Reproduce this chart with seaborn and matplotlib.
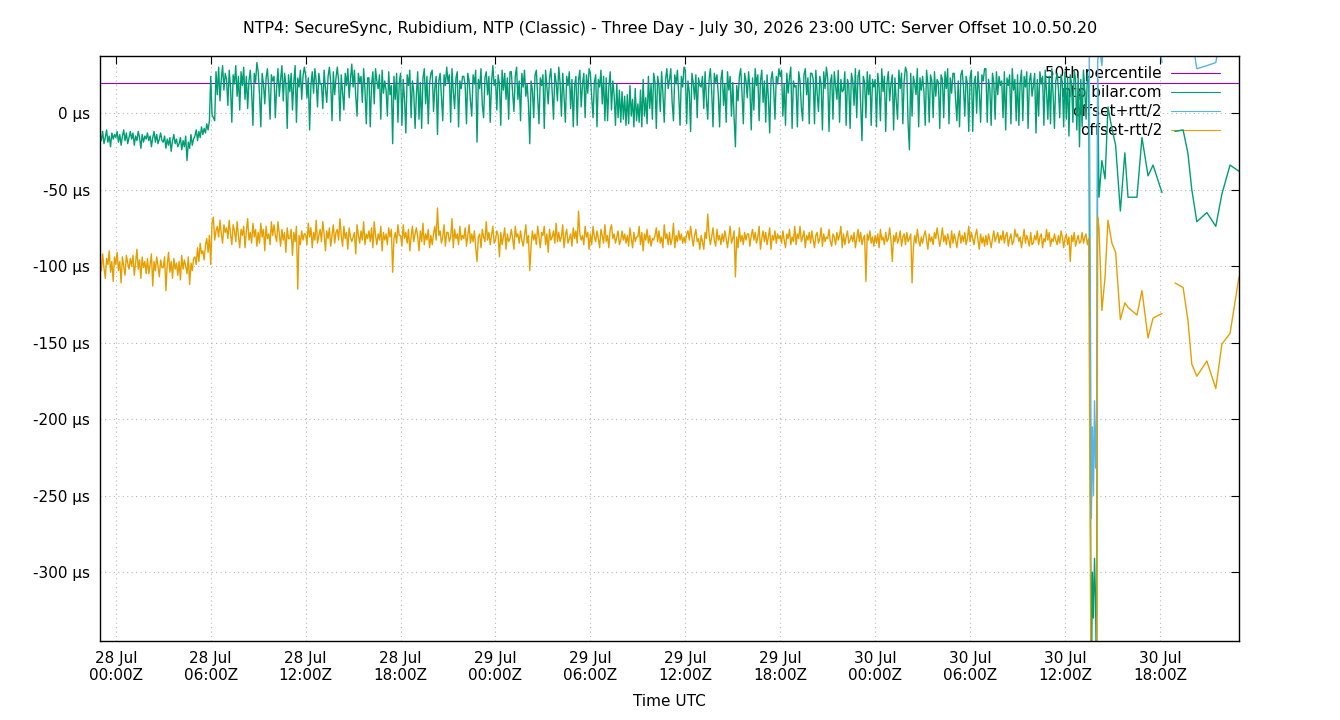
import matplotlib
matplotlib.use("Agg")
import matplotlib.pyplot as plt
import matplotlib.dates as mdates
from matplotlib.lines import Line2D
from matplotlib.ticker import FuncFormatter, MultipleLocator
import seaborn as sns
import pandas as pd

sns.set_theme(style="white")
plt.rcParams['font.family'] = ['DejaVu Sans']
for k in ["text.color", "axes.labelcolor", "xtick.color", "ytick.color"]:
    plt.rcParams[k] = "black"

TITLE = "NTP4: SecureSync, Rubidium, NTP (Classic) - Three Day - July 30, 2026 23:00 UTC: Server Offset 10.0.50.20"
LABELS = ["50th percentile", "ntp.bilar.com", "offset+rtt/2", "offset-rtt/2"]
COLORS = ["#9400d3", "#009e73", "#56b4e9", "#e69f00"]

START = "2026-07-27 23:00"
END = "2026-07-30 23:00"
STEP = "5min"
P50 = 19.5

# offset (us), one row per hour, 5 minute samples from 27 Jul 23:00 to 30 Jul 13:30
green_dense = [
    -14, -18, -12, -20, -16, -11, -19, -15, -22, -13, -17, -14,
    -16, -12, -19, -14, -21, -15, -11, -18, -13, -20, -16, -12,
    -17, -13, -21, -15, -18, -12, -16, -23, -14, -19, -15, -17,
    -13, -18, -15, -22, -16, -12, -19, -14, -20, -17, -13, -18,
    -19, -15, -23, -17, -21, -16, -25, -18, -14, -20, -17, -22,
    -20, -16, -24, -18, -22, -15, -31, -19, -23, -14, -21, -17,
    -15, -11, -18, -12, -16, -9, -14, -10, -13, -7, -11, -5,
    24, -1, -3, -5, 27, 12, 30, 8, 22, 31, 15, 26,
    22, 5, 28, 17, -6, 25, 19, 31, 11, 24, 2, 27,
    18, 30, 9, 24, 3, 21, 28, 14, -8, 26, 20, 33,
    27, 12, -9, 26, 19, 6, 23, 29, 16, -4, 25, 21,
    24, -3, 17, 29, 11, 22, 31, 8, 26, 19, -10, 25,
    14, 26, 2, 20, 31, -6, 23, 17, 28, 9, 24, 30,
    25, 10, 23, -11, 18, 27, 13, 29, 21, 4, 26, 19,
    19, 3, 28, 16, 7, 24, 30, 20, -5, 27, 12, 23,
    30, 21, -5, 25, 13, 2, 26, 18, 29, 10, 22, 32,
    17, 28, 11, -2, 26, 20, 24, 7, 29, 15, -7, 23,
    23, -9, 19, 27, 6, 29, 21, 16, 25, -4, 28, 13,
    21, 15, -2, 27, 12, 18, -20, 24, 9, 26, -6, 20,
    26, -8, 22, 9, -13, 25, 18, 28, -3, 21, 14, -10,
    12, 27, -4, 20, -10, 23, 29, 6, 24, -7, 19, 26,
    28, 1, 17, 24, -14, 21, 26, 11, -5, 25, 18, 30,
    20, 25, -6, 29, 14, 3, 23, 27, -9, 21, 16, 24,
    24, 18, -7, 26, 21, 8, -2, 25, 19, 28, -19, 22,
    16, 29, 5, -3, 23, 27, 12, 24, -6, 20, 31, 18,
    22, 2, 25, 19, -8, 28, 15, 26, 9, 23, -4, 27,
    27, 13, 1, 24, 30, 9, 21, -5, 26, 17, 28, 11,
    19, 6, -20, 21, 15, -3, 25, 28, 10, -7, 23, 18,
    25, -10, 28, 17, 6, 23, 29, 14, -4, 26, 20, 8,
    30, 20, -2, 26, 11, -6, 24, 18, 27, 3, 22, -9,
    18, 24, -8, 22, 28, 4, 19, 26, -3, 25, 13, 29,
    26, 10, -3, 20, 25, -9, 22, 17, 28, 6, 24, -5,
    23, -5, 17, 27, 2, 21, 12, -8, 19, -3, 15, -6,
    14, -4, 11, -8, 12, -7, 18, -2, 9, -9, 16, -5,
    6, -6, 15, -9, 22, -2, 10, -7, 24, 3, 19, -4,
    26, 20, -10, 24, 18, 1, 27, 13, -6, 22, 29, 16,
    22, 29, 7, -5, 25, 19, 28, 12, -8, 24, 17, 30,
    28, -7, 21, 14, -12, 26, 20, 9, 25, -3, 23, 18,
    17, 24, 3, 27, 9, -4, 22, 29, 14, -9, 26, 20,
    25, 12, -9, 22, 28, 5, 19, -6, 27, 15, 24, -2,
    20, -3, -22, 18, 8, 24, 29, 13, -7, 26, 21, 10,
    27, 16, -11, 23, 2, 29, 18, 25, -5, 21, 28, 7,
    21, -6, 25, 10, -13, 22, 27, 16, -4, 24, 19, 29,
    24, 28, -2, 19, -8, 26, 13, 23, 30, -10, 21, 17,
    18, -9, 27, 21, 4, -5, 25, 29, 12, 23, -7, 26,
    26, 22, -7, 28, 13, 1, 24, 19, -11, 27, 16, 30,
    23, -12, 20, 25, -4, 27, 18, 9, 28, -6, 22, 14,
    15, 27, -8, 22, 18, -10, 26, 21, 5, 29, -3, 24,
    28, 6, -18, 24, 20, -3, 27, 12, 25, -8, 22, 17,
    22, -9, 26, 17, -5, 29, 14, 24, -12, 20, 27, 8,
    19, 25, -11, 23, 8, -4, 28, 16, 26, -7, 21, 30,
    27, -7, -24, 26, -2, 24, 19, 12, 29, -9, 23, 15,
    24, 14, -8, 28, 19, -6, 25, 21, -3, 27, 11, 22,
    20, -10, 25, 22, -3, 27, 16, 29, -7, 23, 13, 26,
    26, 9, -5, 21, -9, 25, 28, 17, -2, 24, 19, -12,
    23, 28, -12, 19, 24, 0, 27, 14, -6, 25, 21, 29,
    29, -6, 22, 16, -8, 26, 20, -4, 27, 12, 24, 18,
    21, -3, 27, -11, 23, 18, 25, -7, 29, 15, 22, -5,
    25, -8, 20, 28, -5, 24, 17, 27, -10, 21, 26, 11,
    18, 26, -13, 22, -2, 27, 19, 24, -8, 28, 14, -4,
    24, -7, 29, 12, -10, 21, 26, 16, -3, 25, 20, -9,
    27, -4, 23, -15, 25, 19, -6, 28, 22, -11, 24, -22,
    22, -9, 28, 15, -4, 26, 19,
]

# offset-rtt/2 (us), same sample times
orange_dense = [
    -96, -103, -92, -101, -108, -95, -99, -90, -104, -97, -110, -94,
    -99, -91, -103, -97, -111, -94, -100, -106, -93, -98, -102, -95,
    -100, -93, -106, -98, -89, -102, -96, -108, -94, -101, -97, -105,
    -95, -105, -99, -92, -113, -97, -103, -94, -100, -107, -96, -101,
    -101, -94, -116, -99, -91, -104, -97, -108, -95, -102, -98, -106,
    -97, -109, -93, -102, -96, -100, -105, -94, -112, -98, -103, -95,
    -94, -99, -88, -97, -85, -92, -90, -96, -86, -82, -91, -80,
    -99, -72, -68, -83, -77, -74, -81, -70, -79, -85, -73, -78,
    -75, -82, -70, -79, -86, -73, -77, -84, -71, -80, -88, -76,
    -80, -74, -88, -77, -69, -83, -78, -85, -72, -81, -76, -87,
    -78, -85, -72, -81, -76, -90, -74, -82, -79, -86, -71, -80,
    -73, -80, -84, -71, -79, -87, -76, -83, -78, -91, -75, -82,
    -82, -76, -93, -78, -84, -74, -115, -80, -86, -77, -83, -79,
    -79, -86, -72, -81, -75, -88, -78, -83, -70, -85, -80, -76,
    -84, -71, -79, -90, -77, -82, -75, -87, -80, -73, -85, -78,
    -76, -83, -69, -80, -87, -74, -82, -78, -89, -75, -81, -84,
    -81, -78, -92, -73, -80, -85, -77, -83, -71, -86, -79, -82,
    -77, -84, -75, -88, -71, -80, -86, -79, -83, -74, -90, -78,
    -83, -79, -86, -75, -81, -76, -104, -82, -78, -85, -73, -80,
    -80, -87, -73, -82, -78, -85, -76, -90, -81, -74, -84, -79,
    -75, -81, -90, -77, -84, -72, -86, -79, -83, -76, -88, -80,
    -86, -79, -74, -83, -62, -80, -77, -85, -81, -73, -87, -78,
    -78, -84, -81, -69, -88, -76, -82, -79, -86, -74, -83, -80,
    -82, -75, -87, -80, -73, -85, -79, -84, -77, -88, -97, -81,
    -79, -88, -76, -81, -84, -71, -83, -78, -86, -80, -74, -85,
    -83, -77, -80, -94, -78, -86, -81, -75, -89, -79, -84, -82,
    -76, -82, -89, -74, -81, -79, -85, -77, -83, -87, -80, -73,
    -85, -80, -103, -87, -77, -83, -79, -86, -74, -81, -88, -78,
    -80, -74, -86, -79, -91, -76, -83, -81, -77, -85, -72, -84,
    -78, -84, -81, -73, -88, -80, -76, -85, -82, -79, -87, -75,
    -82, -77, -85, -64, -79, -83, -80, -86, -74, -81, -78, -89,
    -79, -86, -74, -81, -84, -77, -82, -88, -76, -80, -85, -73,
    -84, -80, -88, -76, -73, -82, -79, -85, -81, -77, -86, -83,
    -77, -83, -79, -85, -80, -87, -75, -82, -88, -78, -84, -81,
    -81, -74, -86, -78, -90, -79, -83, -76, -85, -80, -87, -82,
    -83, -80, -75, -84, -77, -85, -81, -88, -73, -82, -79, -86,
    -78, -86, -82, -72, -88, -80, -84, -77, -83, -79, -85, -81,
    -85, -79, -77, -83, -74, -81, -87, -80, -76, -84, -82, -89,
    -80, -84, -89, -78, -82, -66, -79, -86, -81, -75, -83, -87,
    -76, -83, -80, -86, -79, -84, -77, -82, -88, -81, -74, -85,
    -82, -77, -107, -81, -88, -75, -84, -80, -86, -78, -83, -79,
    -79, -87, -80, -76, -83, -78, -85, -81, -74, -89, -82, -77,
    -84, -78, -86, -81, -75, -89, -80, -83, -77, -85, -79, -82,
    -80, -85, -77, -83, -88, -79, -82, -76, -86, -81, -84, -74,
    -86, -79, -82, -74, -84, -81, -77, -88, -80, -83, -78, -85,
    -77, -83, -88, -80, -78, -85, -82, -75, -87, -79, -84, -81,
    -82, -76, -84, -87, -79, -81, -86, -78, -83, -80, -74, -88,
    -79, -86, -81, -77, -85, -83, -80, -84, -78, -88, -82, -76,
    -84, -78, -86, -82, -80, -110, -79, -83, -77, -85, -81, -87,
    -80, -85, -79, -88, -76, -83, -81, -86, -78, -84, -82, -75,
    -83, -97, -80, -84, -78, -85, -82, -77, -87, -81, -79, -86,
    -78, -84, -82, -79, -111, -88, -80, -85, -76, -83, -87, -81,
    -85, -80, -77, -83, -89, -79, -84, -81, -86, -78, -82, -75,
    -81, -87, -82, -75, -84, -80, -86, -79, -83, -88, -77, -85,
    -79, -83, -88, -81, -77, -85, -80, -84, -78, -86, -82, -74,
    -84, -78, -82, -86, -80, -76, -83, -89, -79, -85, -81, -87,
    -80, -86, -79, -83, -88, -82, -77, -84, -81, -78, -85, -80,
    -83, -77, -85, -80, -78, -87, -82, -79, -86, -84, -76, -81,
    -79, -84, -81, -88, -82, -76, -85, -80, -83, -87, -78, -86,
    -85, -80, -83, -77, -86, -81, -79, -88, -82, -84, -76, -83,
    -78, -87, -82, -84, -79, -83, -86, -80, -85, -77, -81, -88,
    -82, -79, -86, -81, -97, -80, -84, -78, -87, -83, -80, -85,
    -84, -78, -85, -81, -79, -86, -82,
]

# sparse samples on 30 Jul after the dense block; a gap in the data follows 18:08
tail_a_times = ["13:40", "13:44", "13:48", "13:52", "13:56", "14:00", "14:04", "14:09",
                "14:20", "14:32", "14:43", "14:58", "15:12", "15:30", "15:47", "15:59",
                "16:33", "16:52", "17:15", "17:34", "18:08"]
tail_b_times = ["18:57", "19:28", "19:46", "20:01", "20:20", "20:58", "21:32", "21:55",
                "22:26", "23:00"]

green_tail_a = [-380, -300, -330, -291, -318, -385, 22, -55, -31, -43, 4, -10, -21, -64,
                -26, -55, -55, -16, -41, -34, -52]
green_tail_b = [-12, -11, -26, -50, -71, -65, -74, -53, -34, -38]

orange_tail_a = [-420, -400, -410, -395, -405, -420, -68, -75, -129, -107, -70, -85, -91,
                 -135, -124, -127, -132, -116, -147, -134, -131]
orange_tail_b = [-111, -114, -135, -164, -172, -162, -180, -151, -144, -107]

# offset+rtt/2 is above the plotted range until the disturbance at 13:40
blue_lead_time = "13:30"
blue_lead = 110
blue_tail_a = [-265, -205, -250, -188, -232, -196, 33, 45, 31, 62, 80, 55, 70, 48, 90, 66,
               58, 85, 60, 72, 33]
blue_tail_b = [60, 75, 50, 50, 29, 31, 33, 55, 70, 45]

assert len(green_dense) == len(orange_dense)


def frame(times, values, seg):
    return pd.DataFrame({"time": pd.to_datetime(times), "value": values, "seg": seg})


def day30(times):
    return ["2026-07-30 " + t for t in times]


dense_times = pd.date_range(START, periods=len(green_dense), freq=STEP)

green_df = pd.concat([frame(dense_times, green_dense, 0),
                      frame(day30(tail_a_times), green_tail_a, 0),
                      frame(day30(tail_b_times), green_tail_b, 1)], ignore_index=True)
orange_df = pd.concat([frame(dense_times, orange_dense, 0),
                       frame(day30(tail_a_times), orange_tail_a, 0),
                       frame(day30(tail_b_times), orange_tail_b, 1)], ignore_index=True)
blue_df = pd.concat([frame(day30([blue_lead_time]), [blue_lead], 0),
                     frame(day30(tail_a_times), blue_tail_a, 0),
                     frame(day30(tail_b_times), blue_tail_b, 1)], ignore_index=True)

fig = plt.figure(figsize=(13.4, 7.2), dpi=100)
ax = fig.add_axes([100 / 1340, 1 - 641 / 720, 1139 / 1340, 585 / 720])

LW = 1.0
ax.axhline(P50, color=COLORS[0], lw=0.8, zorder=2)
for df, c in [(green_df, COLORS[1]), (blue_df, COLORS[2]), (orange_df, COLORS[3])]:
    sns.lineplot(data=df, x="time", y="value", units="seg", estimator=None, sort=False,
                 color=c, linewidth=LW, ax=ax, legend=False)

ax.set_xlim(pd.Timestamp(START), pd.Timestamp(END))
ax.set_ylim(-345, 37.3)

ax.xaxis.set_major_locator(mdates.HourLocator(byhour=[0, 6, 12, 18]))
ax.xaxis.set_major_formatter(mdates.DateFormatter("%d %b\n%H:%MZ"))
ax.yaxis.set_major_locator(MultipleLocator(50))
ax.yaxis.set_major_formatter(FuncFormatter(lambda v, p: f"{v:.0f} µs"))

ax.tick_params(direction="in", top=True, right=True, length=6, width=0.8,
               labelsize=11, pad=7, colors="black")
for s in ax.spines.values():
    s.set_color("black")
    s.set_linewidth(1.0)
ax.grid(True, color="#b8b8b8", linestyle=(0, (1, 3)), linewidth=0.8)

ax.set_xlabel("Time UTC", fontsize=11, labelpad=8)
ax.set_ylabel("")
fig.text(0.5, 1 - 29 / 720, TITLE, ha="center", va="center", fontsize=11.4)

handles = [Line2D([], [], color=c, lw=0.8) for c in COLORS]
leg = ax.legend(handles, LABELS, loc="upper right", bbox_to_anchor=(0.983, 0.983),
                frameon=False, markerfirst=False, handlelength=3.2, handletextpad=0.57,
                labelspacing=0.265, borderpad=0, borderaxespad=0, fontsize=11)
leg.set_zorder(1)

fig.savefig("out.png", dpi=100)
